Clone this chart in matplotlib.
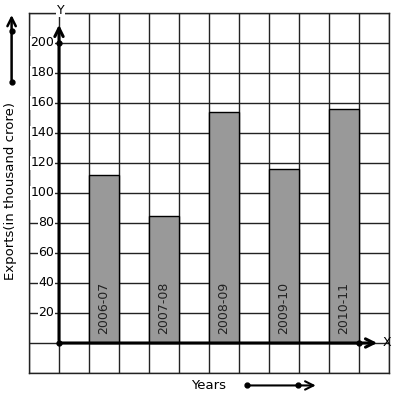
'''
Bar graph of exports by year on a square grid
'''

import matplotlib
matplotlib.use("Agg")
import matplotlib.pyplot as plt

# data
years = ["2006-07", "2007-08", "2008-09", "2009-10", "2010-11"]
exports = [112, 85, 154, 116, 156]
bar_pos = [1.5, 3.5, 5.5, 7.5, 9.5]
y_labels = [20, 40, 60, 80, 100, 120, 140, 160, 180, 200]

W, H = 397, 399
fig = plt.figure(figsize=(W / 100, H / 100), dpi=100)
ax = fig.add_axes([29 / W, (H - 373) / H, 360 / W, 360 / H])
ax.set_xlim(-1, 11)
ax.set_ylim(-20, 220)

# grid
ax.set_xticks(range(-1, 12))
ax.set_yticks(range(-20, 221, 20))
ax.grid(True, color="#222222", linewidth=1)
ax.tick_params(length=0, labelbottom=False, labelleft=False)
for s in ax.spines.values():
    s.set_color("#222222")
    s.set_linewidth(1)
ax.set_axisbelow(True)

# bars
ax.bar(bar_pos, exports, width=1, color="#999999", edgecolor="black", linewidth=1, zorder=3)
for x, lab in zip(bar_pos, years):
    ax.text(x, 6, lab, rotation=90, ha="center", va="bottom", fontsize=9, color="#222222", zorder=4)

# y values written on the grid
for v in y_labels:
    ax.text(-0.15, v, str(v), ha="right", va="center", fontsize=9, zorder=4,
            bbox=dict(facecolor="white", edgecolor="none", pad=0.3))

# axes with arrows
ax.annotate("", xy=(0, 214), xytext=(0, 0),
            arrowprops=dict(arrowstyle="->,head_length=0.6,head_width=0.3", lw=2.2, color="black"), zorder=5)
ax.annotate("", xy=(10.7, 0), xytext=(0, 0),
            arrowprops=dict(arrowstyle="->,head_length=0.6,head_width=0.3", lw=2.2, color="black"), zorder=5)
ax.plot([0, 0, 10], [0, 200, 0], "o", color="black", markersize=3.5, zorder=6)
ax.text(0.05, 222, "Y", ha="center", va="center", fontsize=9, zorder=6,
        bbox=dict(facecolor="white", edgecolor="none", pad=0.5), clip_on=False)
ax.text(10.78, 0, "X", ha="left", va="center", fontsize=9, zorder=6, clip_on=False)

# y axis label with its arrow
ax.text(-1.6, 101, "Exports(in thousand crore)", rotation=90, ha="center", va="center",
        fontsize=9.5, clip_on=False)
ax.annotate("", xy=(-1.58, 220.5), xytext=(-1.58, 173.7), annotation_clip=False,
            arrowprops=dict(arrowstyle="->,head_length=0.6,head_width=0.3", lw=1.8, color="black"))
ax.plot([-1.58, -1.58], [173.7, 207.7], "o", color="black", markersize=3.5, clip_on=False)

# x axis label with its arrow
ax.text(5.0, -28.5, "Years", ha="center", va="center", fontsize=9.5, clip_on=False)
ax.annotate("", xy=(8.65, -28.3), xytext=(6.28, -28.3), annotation_clip=False,
            arrowprops=dict(arrowstyle="->,head_length=0.6,head_width=0.3", lw=1.5, color="black"))
ax.plot([6.28, 7.98], [-28.3, -28.3], "o", color="black", markersize=3.5, clip_on=False)

fig.savefig("out.png", dpi=100)
